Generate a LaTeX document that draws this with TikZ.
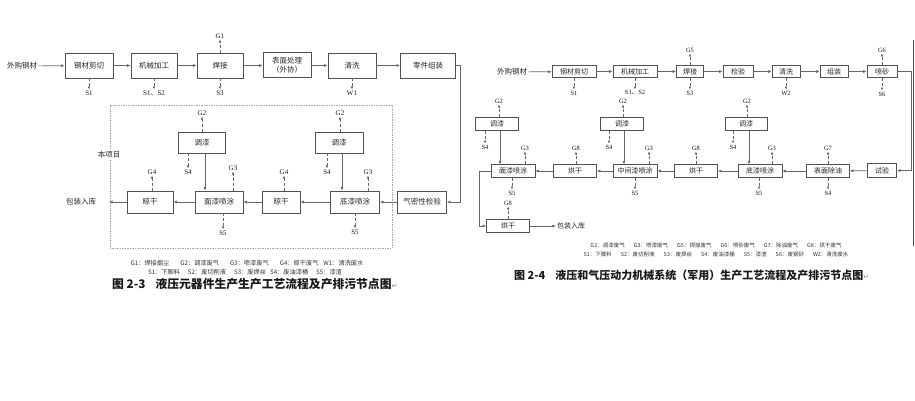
\documentclass[tikz,border=0pt]{standalone}
\usepackage{fontspec}
\setmainfont{Liberation Serif}
\newfontfamily\cjk{Noto Sans CJK SC}
\newfontfamily\symf{DejaVu Sans}
\usetikzlibrary{arrows.meta}
\begin{document}
\begin{tikzpicture}[x=1pt,y=-1pt,
  boxA/.style={draw=black!68, line width=0.8pt, minimum height=25pt, inner sep=0pt, align=center,
    font=\cjk\fontsize{7.5}{9}\selectfont, text=black!85},
  boxB/.style={boxA, minimum height=22pt},
  boxM/.style={boxA, minimum height=21pt},
  boxS/.style={draw=black!68, line width=0.7pt, minimum height=12.5pt, inner sep=0pt,
    font=\cjk\fontsize{7}{8}\selectfont, text=black!85},
  txt/.style={inner sep=1pt, font=\cjk\fontsize{7.5}{9}\selectfont, text=black!85},
  lab/.style={inner sep=1pt, font=\fontsize{7}{8}\selectfont, text=black!90},
  labS/.style={inner sep=1pt, font=\fontsize{6.5}{7}\selectfont, text=black!90},
  flow/.style={draw=black!60, line width=0.7pt, -{Latex[length=3.5pt,width=3pt]}},
  emis/.style={draw=black!60, line width=0.6pt, densely dashed, -{Latex[length=3pt,width=2.6pt]}},
  leg/.style={inner sep=0pt, font=\cjk\fontsize{6.2}{7}\selectfont, text=black!80},
  legS/.style={inner sep=0pt, font=\cjk\fontsize{5.5}{6.5}\selectfont, text=black!80},
  ttl/.style={inner sep=0pt, anchor=west, font=\cjk\bfseries\fontsize{11}{12}\selectfont, text=black!90}
]
\useasboundingbox (0,0) rectangle (915,400);
\fill[white] (0,0) rectangle (915,400);

% ================= LEFT DIAGRAM =================
\draw[black!35, line width=0.6pt, dash pattern=on 1.5pt off 1pt] (110,105) rectangle (392,248);
\node[txt, fill=white, inner sep=2pt] (proj) at (109,155) {本项目};

\node[txt] (ext1) at (22,66) {外购钢材};
\node[boxA, minimum width=48pt] (cut1) at (89,65.5) {钢材剪切};
\node[boxA, minimum width=46pt] (mach1) at (154,65.5) {机械加工};
\node[boxA, minimum width=46pt] (weld1) at (220,65.5) {焊接};
\node[boxA, minimum width=48pt] (surf1) at (287,65) {表面处理\\（外协）};
\node[boxA, minimum width=48pt] (wash1) at (352,65.5) {清洗};
\node[boxA, minimum width=55pt] (asm1) at (428,65.5) {零件组装};
\node[boxB, minimum width=49pt] (air1) at (422,202) {气密性检验};
\node[boxB, minimum width=49pt] (base1) at (355,202) {底漆喷涂};
\node[boxB, minimum width=38pt] (dry1b) at (281,202) {晾干};
\node[boxB, minimum width=48pt] (top1) at (219,202) {面漆喷涂};
\node[boxB, minimum width=46pt] (dry1a) at (150,202) {晾干};
\node[boxM, minimum width=48pt] (mix1b) at (339,142.5) {调漆};
\node[boxM, minimum width=47pt] (mix1a) at (202,142.5) {调漆};
\node[txt] (pack1) at (81,202) {包装入库};
\coordinate (bend1) at (460,65.5);
\coordinate (out1) at (109,202);

\draw[flow] (ext1) -- (cut1);
\draw[flow] (cut1) -- (mach1);
\draw[flow] (mach1) -- (weld1);
\draw[flow] (weld1) -- (surf1.west |- weld1);
\draw[flow] (surf1.east |- wash1) -- (wash1);
\draw[flow] (wash1) -- (asm1);
\draw[flow] (asm1.east) -- (bend1) |- (air1.east);
\draw[flow] (air1) -- (base1);
\draw[flow] (base1) -- (dry1b);
\draw[flow] (dry1b) -- (top1);
\draw[flow] (top1) -- (dry1a);
\draw[flow] (dry1a) -- (out1);
\draw[flow] ([xshift=3pt]mix1b.south) -- ([xshift=3pt]mix1b.south |- base1.north);
\draw[flow] ([xshift=3pt]mix1a.south) -- ([xshift=3pt]mix1a.south |- top1.north);

% emissions left
\node[lab] (s1a) at (89,93) {S1};
\node[lab] (s12a) at (154,93) {S1{\cjk 、}S2};
\node[lab] (g1a) at (220,36) {G1};
\node[lab] (s3a) at (220,93) {S3};
\node[lab] (w1a) at (352,93) {W1};
\draw[emis] (cut1.south) -- (s1a.north);
\draw[emis] (mach1.south) -- (s12a.north);
\draw[emis] (weld1.north) -- (g1a.south);
\draw[emis] (weld1.south) -- (s3a.north);
\draw[emis] (wash1.south) -- (w1a.north);

\node[lab] (g2a) at (202,113) {G2};
\node[lab] (s4a) at (188,172) {S4};
\node[lab] (g3a) at (233,168) {G3};
\node[lab] (s5a) at (223,233) {S5};
\node[lab] (g4a) at (152,172) {G4};
\node[lab] (g4b) at (284,172) {G4};
\node[lab] (g2b) at (340,113) {G2};
\node[lab] (s4b) at (327,172) {S4};
\node[lab] (g3b) at (368,172) {G3};
\node[lab] (s5b) at (355,232) {S5};
\draw[emis] (mix1a.north) -- (g2a.south);
\draw[emis] (mix1a.south -| s4a) -- (s4a.north);
\draw[emis] (top1.north -| g3a) -- (g3a.south);
\draw[emis] (top1.south -| s5a) -- (s5a.north);
\draw[emis] (dry1a.north -| g4a) -- (g4a.south);
\draw[emis] (dry1b.north -| g4b) -- (g4b.south);
\draw[emis] (mix1b.north -| g2b) -- (g2b.south);
\draw[emis] (mix1b.south -| s4b) -- (s4b.north);
\draw[emis] (base1.north -| g3b) -- (g3b.south);
\draw[emis] (base1.south) -- (s5b.north);

\node[leg] (lgA1) at (247,263) {G1：焊接烟尘\hspace{11pt}G2：调漆废气\hspace{11pt}G3：喷漆废气\hspace{11pt}G4：晾干废气\hspace{5pt}W1：清洗废水};
\node[leg] (lgA2) at (245,272) {S1：下脚料\hspace{8pt}S2：废切削液\hspace{8pt}S3：废焊丝\hspace{4pt}S4：废油漆桶\hspace{8pt}S5：漆渣};
\node[ttl, font=\cjk\bfseries\fontsize{11.8}{13}\selectfont] (tA) at (112,284) {图 2-3\hspace{10pt}液压元器件生产生产工艺流程及产排污节点图{\symf\mdseries\fontsize{7}{8}\selectfont\color{black!45}↵}};

% ================= RIGHT DIAGRAM =================
\node[txt] (ext2) at (512,72) {外购钢材};
\node[boxS, minimum width=44pt] (cut2) at (574,71.5) {钢材剪切};
\node[boxS, minimum width=44pt] (mach2) at (635,71.5) {机械加工};
\node[boxS, minimum width=27pt] (weld2) at (690,71.5) {焊接};
\node[boxS, minimum width=30pt] (insp2) at (738,71.5) {检验};
\node[boxS, minimum width=28pt] (wash2) at (786,71.5) {清洗};
\node[boxS, minimum width=28pt] (asm2) at (834,71.5) {组装};
\node[boxS, minimum width=30pt] (sand2) at (882,71.5) {喷砂};
\node[boxS, minimum width=29pt, minimum height=14pt] (test2) at (882,170.5) {试验};
\node[boxS, minimum width=43pt] (degr2) at (828,171) {表面除油};
\node[boxS, minimum width=44pt] (base2) at (760,171) {底漆喷涂};
\node[boxS, minimum width=43pt] (dry2c) at (696,171) {烘干};
\node[boxS, minimum width=44pt] (mid2) at (635,171) {中间漆喷涂};
\node[boxS, minimum width=43pt] (dry2b) at (575,171) {烘干};
\node[boxS, minimum width=44pt] (top2) at (513,171) {面漆喷涂};
\node[boxS, minimum width=43pt] (mix2a) at (497,124) {调漆};
\node[boxS, minimum width=43pt] (mix2b) at (622,124) {调漆};
\node[boxS, minimum width=42pt] (mix2c) at (746,124) {调漆};
\node[boxS, minimum width=43pt] (dry2a) at (508,226) {烘干};
\node[txt, font=\cjk\fontsize{7}{8}\selectfont] (pack2) at (571,226) {包装入库};
\coordinate (bend2) at (911,71.5);
\coordinate (bend3) at (479,171);

\draw[flow] (ext2) -- (cut2);
\draw[flow] (cut2) -- (mach2);
\draw[flow] (mach2) -- (weld2);
\draw[flow] (weld2) -- (insp2);
\draw[flow] (insp2) -- (wash2);
\draw[flow] (wash2) -- (asm2);
\draw[flow] (asm2) -- (sand2);
\draw[flow] (sand2.east) -- (bend2) |- (test2.east);
\draw[flow] (test2) -- (degr2);
\draw[flow] (degr2) -- (base2);
\draw[flow] (base2) -- (dry2c);
\draw[flow] (dry2c) -- (mid2);
\draw[flow] (mid2) -- (dry2b);
\draw[flow] (dry2b) -- (top2);
\draw[flow] (top2.west) -- (bend3) |- (dry2a.west);
\draw[flow] (dry2a) -- (pack2);
\draw[flow] ([xshift=3pt]mix2a.south) -- ([xshift=3pt]mix2a.south |- top2.north);
\draw[flow] ([xshift=2pt]mix2b.south) -- ([xshift=2pt]mix2b.south |- mid2.north);
\draw[flow] ([xshift=3pt]mix2c.south) -- ([xshift=3pt]mix2c.south |- base2.north);

% emissions right
\node[labS] (s1c) at (574,93) {S1};
\node[labS] (s12c) at (635,93) {S1{\cjk 、}S2};
\node[labS] (g5c) at (690,50) {G5};
\node[labS] (s3c) at (690,93) {S3};
\node[labS] (w2c) at (786,93) {W2};
\node[labS] (g6c) at (882,50) {G6};
\node[labS] (s6c) at (882,94) {S6};
\draw[emis] (cut2.south) -- (s1c.north);
\draw[emis] (mach2.south) -- (s12c.north);
\draw[emis] (weld2.north) -- (g5c.south);
\draw[emis] (weld2.south) -- (s3c.north);
\draw[emis] (wash2.south) -- (w2c.north);
\draw[emis] (sand2.north) -- (g6c.south);
\draw[emis] (sand2.south) -- (s6c.north);

\node[labS] (g2c) at (499,101) {G2};
\node[labS] (s4c) at (485,147) {S4};
\node[labS] (g2d) at (623,101) {G2};
\node[labS] (s4d) at (609,147) {S4};
\node[labS] (g2e) at (747,101) {G2};
\node[labS] (s4e) at (733,147) {S4};
\draw[emis] (mix2a.north -| g2c) -- (g2c.south);
\draw[emis] (mix2a.south -| s4c) -- (s4c.north);
\draw[emis] (mix2b.north -| g2d) -- (g2d.south);
\draw[emis] (mix2b.south -| s4d) -- (s4d.north);
\draw[emis] (mix2c.north -| g2e) -- (g2e.south);
\draw[emis] (mix2c.south -| s4e) -- (s4e.north);

\node[labS] (g3c) at (525,148) {G3};
\node[labS] (s5c) at (512,193) {S5};
\node[labS] (g8c) at (576,148) {G8};
\node[labS] (g3d) at (649,148) {G3};
\node[labS] (s5d) at (635,193) {S5};
\node[labS] (g8d) at (696,148) {G8};
\node[labS] (g3e) at (772,148) {G3};
\node[labS] (s5e) at (759,193) {S5};
\node[labS] (g7c) at (828,148) {G7};
\node[labS] (s4f) at (828,193) {S4};
\node[labS] (g8e) at (508,203) {G8};
\draw[emis] (top2.north -| g3c) -- (g3c.south);
\draw[emis] (top2.south -| s5c) -- (s5c.north);
\draw[emis] (dry2b.north -| g8c) -- (g8c.south);
\draw[emis] (mid2.north -| g3d) -- (g3d.south);
\draw[emis] (mid2.south -| s5d) -- (s5d.north);
\draw[emis] (dry2c.north -| g8d) -- (g8d.south);
\draw[emis] (base2.north -| g3e) -- (g3e.south);
\draw[emis] (base2.south -| s5e) -- (s5e.north);
\draw[emis] (degr2.north) -- (g7c.south);
\draw[emis] (degr2.south) -- (s4f.north);
\draw[emis] (dry2a.north) -- (g8e.south);

\node[legS] (lgB1) at (716,245) {G2：调漆废气\hspace{9pt}G3：喷漆废气\hspace{9pt}G5：焊接废气\hspace{9pt}G6：喷砂废气\hspace{9pt}G7：除油废气\hspace{9pt}G8：烘干废气};
\node[legS] (lgB2) at (716,254) {S1：下脚料\hspace{9pt}S2：废切削液\hspace{9pt}S3：废焊丝\hspace{9pt}S4：废油漆桶\hspace{9pt}S5：漆渣\hspace{9pt}S6：废钢砂\hspace{9pt}W2：清洗废水};
\node[ttl] (tB) at (514,275) {图 2-4\hspace{10pt}液压和气压动力机械系统（军用）生产工艺流程及产排污节点图{\symf\mdseries\fontsize{7}{8}\selectfont\color{black!45}↵}};

% page edge line
\coordinate (edgeT) at (913.5,40);
\coordinate (edgeB) at (913.5,246);
\draw[black!70, line width=0.8pt] (edgeT) -- (edgeB);
\end{tikzpicture}
\end{document}
